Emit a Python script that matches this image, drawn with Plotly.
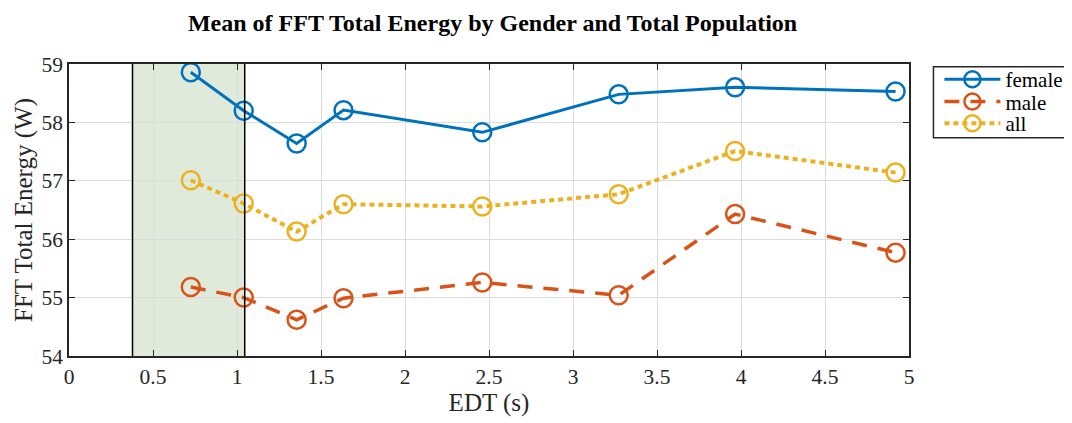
import plotly.graph_objects as go

edt = [0.725, 1.04, 1.355, 1.634, 2.46, 3.272, 3.965, 4.92]
female = [58.86, 58.2, 57.64, 58.21, 57.83, 58.48, 58.6, 58.53]
male = [55.18, 55.0, 54.62, 54.99, 55.26, 55.04, 56.43, 55.77]
all_pop = [57.01, 56.61, 56.13, 56.6, 56.56, 56.77, 57.51, 57.14]
shade_range = [0.378, 1.046]

FONT = "Liberation Serif"
fig = go.Figure()
series = [
    ("female", female, "#0072BD", "solid", 3, "legend", 0.9468),
    ("male", male, "#D95319", "15px,11px", 3.5, "legend2", 0.8704),
    ("all", all_pop, "#EDB120", "5px,4px", 4, "legend3", 0.7961),
]
for name, ys, col, dash, lw, leg, _ in series:
    fig.add_trace(go.Scatter(
        x=edt, y=ys, name=name, mode="lines+markers", legend=leg,
        line=dict(color=col, width=lw, dash=dash),
        marker=dict(symbol="circle-open", size=18, color=col, line=dict(width=2.5, color=col)),
    ))

fig.add_shape(type="rect", xref="x", yref="y", x0=shade_range[0], x1=shade_range[1], y0=54, y1=59,
              fillcolor="rgba(110,160,90,0.22)", line=dict(width=0), layer="below")
for xv in shade_range:
    fig.add_shape(type="line", xref="x", yref="y", x0=xv, x1=xv, y0=54, y1=59,
                  line=dict(color="black", width=1.5), layer="above")
# legend frame
fig.add_shape(type="rect", xref="paper", yref="paper", x0=1.0291, x1=1.1885, y0=0.7476, y1=0.9908,
              line=dict(color="#262626", width=1.5), fillcolor="rgba(0,0,0,0)")

axis_common = dict(showline=True, linecolor="#262626", linewidth=1.5, mirror="ticks",
                   ticks="inside", ticklen=6, tickcolor="#262626", showgrid=True,
                   gridcolor="#dcdcdc", gridwidth=1, zeroline=False,
                   tickfont=dict(family=FONT, size=21.5, color="#262626"))
fig.update_xaxes(range=[0, 5], dtick=0.5, tick0=0,
                 title=dict(text="EDT (s)", font=dict(family=FONT, size=25, color="#262626"), standoff=2),
                 **axis_common)
fig.update_yaxes(range=[54, 59], dtick=1,
                 title=dict(text="FFT Total Energy (W)", font=dict(family=FONT, size=25, color="#262626"), standoff=2),
                 **axis_common)

leg_common = dict(xanchor="left", yanchor="middle", borderwidth=0, bgcolor="rgba(0,0,0,0)",
                  font=dict(family=FONT, size=21, color="black"), itemwidth=56, x=1.0362)
layout_legends = {}
for (_, _, _, _, _, leg, ly) in series:
    layout_legends[leg] = dict(y=ly, **leg_common)

fig.update_layout(
    width=1072, height=423,
    margin=dict(l=61, r=169, t=56, b=75),
    font=dict(family=FONT, color="#262626"),
    paper_bgcolor="white", plot_bgcolor="white",
    title=dict(text="<b>Mean of FFT Total Energy by Gender and Total Population</b>",
               font=dict(family=FONT, size=24, color="black"), x=0.452, xanchor="center", y=0.966, yanchor="middle"),
    showlegend=True,
    **layout_legends,
)
fig.write_html("out.html")
